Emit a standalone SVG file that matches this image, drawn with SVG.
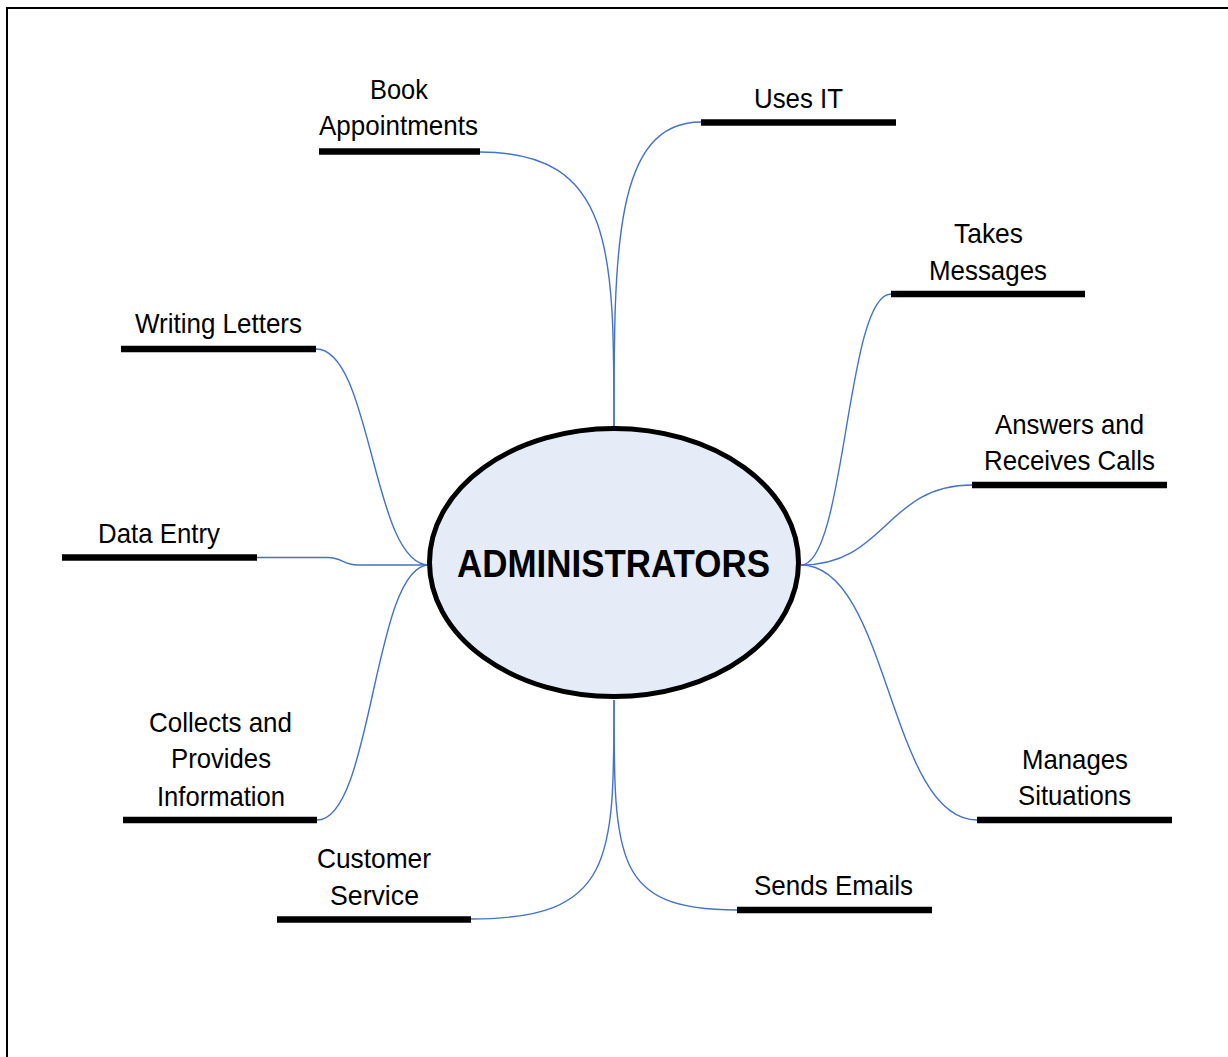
<svg xmlns="http://www.w3.org/2000/svg" width="1228" height="1057" viewBox="0 0 1228 1057">
  <style>
    .lbl { font-family: "Liberation Sans", Arial, sans-serif; font-size: 28px; fill: #000; text-anchor: middle; }
    .hub { font-family: "Liberation Sans", Arial, sans-serif; font-size: 39px; font-weight: bold; fill: #000; text-anchor: middle; }
    .bar { stroke: #000; stroke-width: 6.5; stroke-linecap: butt; fill: none; }
    .link { stroke: #4472C4; stroke-width: 1.4; fill: none; }
  </style>
  <rect x="0" y="0" width="1228" height="1057" fill="#fff"/>
  <!-- page frame -->
  <rect x="7" y="8" width="1240" height="1070" fill="none" stroke="#000" stroke-width="2"/>

  <!-- connectors -->
  <g id="connectors">
    <path class="link" d="M614,428 C614,250 614,152 480,152"/>
    <path class="link" d="M614,428 C614,250 614,122 701,122"/>
    <path class="link" d="M801,565 C846,565 846,294 891,294"/>
    <path class="link" d="M801,565 C886,565 886,485 972,485"/>
    <path class="link" d="M801,565 C889,565 889,820 977,820"/>
    <path class="link" d="M614,700 C614,860 614,910 737,910"/>
    <path class="link" d="M614,700 C614,860 614,919 471,919"/>
    <path class="link" d="M429,565 C373,565 373,820 317,820"/>
    <path class="link" d="M429,565 H358 C343,565 342,557.5 328,557.5 H257"/>
    <path class="link" d="M429,565 C372,565 372,349 316,349"/>
  </g>

  <g id="administrators">
    <ellipse cx="614" cy="562.5" rx="184.5" ry="134" fill="#E6ECF7" stroke="#000" stroke-width="5"/>
    <text class="hub" x="613.5" y="577" textLength="313" lengthAdjust="spacingAndGlyphs">ADMINISTRATORS</text>
  </g>

  <g id="book-appointments">
    <line class="bar" x1="319" y1="151.5" x2="480" y2="151.5"/>
    <text class="lbl" x="399" y="99" textLength="58" lengthAdjust="spacingAndGlyphs">Book</text>
    <text class="lbl" x="398.5" y="135" textLength="159" lengthAdjust="spacingAndGlyphs">Appointments</text>
  </g>

  <g id="uses-it">
    <line class="bar" x1="701" y1="122.5" x2="896" y2="122.5"/>
    <text class="lbl" x="798.5" y="108" textLength="89" lengthAdjust="spacingAndGlyphs">Uses IT</text>
  </g>

  <g id="takes-messages">
    <line class="bar" x1="891" y1="294" x2="1085" y2="294"/>
    <text class="lbl" x="988.5" y="243" textLength="69" lengthAdjust="spacingAndGlyphs">Takes</text>
    <text class="lbl" x="988" y="280" textLength="118" lengthAdjust="spacingAndGlyphs">Messages</text>
  </g>

  <g id="answers-calls">
    <line class="bar" x1="972" y1="485" x2="1167" y2="485"/>
    <text class="lbl" x="1069.5" y="434" textLength="149" lengthAdjust="spacingAndGlyphs">Answers and</text>
    <text class="lbl" x="1069.5" y="470" textLength="171" lengthAdjust="spacingAndGlyphs">Receives Calls</text>
  </g>

  <g id="manages-situations">
    <line class="bar" x1="977" y1="820" x2="1172" y2="820"/>
    <text class="lbl" x="1075" y="769" textLength="106" lengthAdjust="spacingAndGlyphs">Manages</text>
    <text class="lbl" x="1074.5" y="805" textLength="113" lengthAdjust="spacingAndGlyphs">Situations</text>
  </g>

  <g id="sends-emails">
    <line class="bar" x1="737" y1="910" x2="932" y2="910"/>
    <text class="lbl" x="833.5" y="895" textLength="159" lengthAdjust="spacingAndGlyphs">Sends Emails</text>
  </g>

  <g id="customer-service">
    <line class="bar" x1="277" y1="919.5" x2="471" y2="919.5"/>
    <text class="lbl" x="374" y="868" textLength="114" lengthAdjust="spacingAndGlyphs">Customer</text>
    <text class="lbl" x="374.5" y="905" textLength="89" lengthAdjust="spacingAndGlyphs">Service</text>
  </g>

  <g id="collects-information">
    <line class="bar" x1="123" y1="820" x2="317" y2="820"/>
    <text class="lbl" x="220.5" y="732" textLength="143" lengthAdjust="spacingAndGlyphs">Collects and</text>
    <text class="lbl" x="221" y="768" textLength="100" lengthAdjust="spacingAndGlyphs">Provides</text>
    <text class="lbl" x="221" y="806" textLength="128" lengthAdjust="spacingAndGlyphs">Information</text>
  </g>

  <g id="data-entry">
    <line class="bar" x1="62" y1="557.5" x2="257" y2="557.5"/>
    <text class="lbl" x="159" y="543" textLength="122" lengthAdjust="spacingAndGlyphs">Data Entry</text>
  </g>

  <g id="writing-letters">
    <line class="bar" x1="121" y1="349" x2="316" y2="349"/>
    <text class="lbl" x="218.5" y="333" textLength="167" lengthAdjust="spacingAndGlyphs">Writing Letters</text>
  </g>
</svg>
